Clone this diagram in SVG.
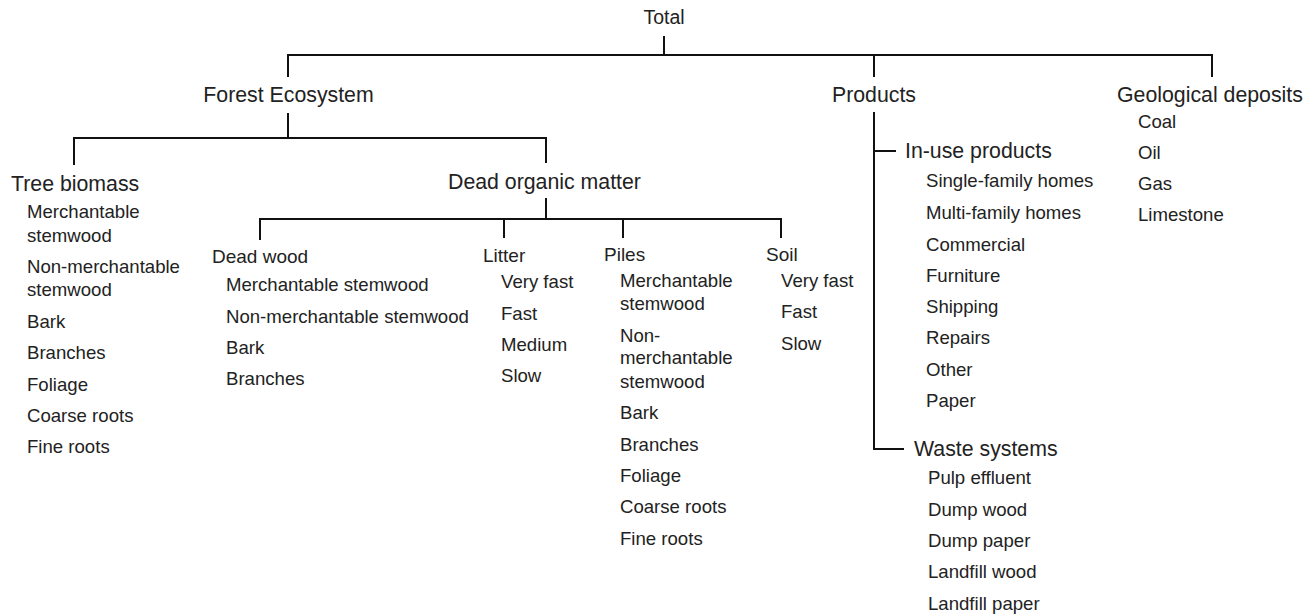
<svg xmlns="http://www.w3.org/2000/svg" width="1315" height="615" viewBox="0 0 1315 615">
<style>
text{font-family:"Liberation Sans",Arial,sans-serif;fill:#222}
.h{font-size:21.3px}
.t{font-size:19.5px}
.s{font-size:19px}
.i{font-size:18.6px}
.c line{stroke:#111;stroke-width:2;stroke-linecap:square}
</style>
<rect width="1315" height="615" fill="#fff"/>
<g class="c" id="connectors">
<line x1="664" y1="37" x2="664" y2="55"/>
<line x1="288" y1="55" x2="1212" y2="55"/>
<line x1="288" y1="55" x2="288" y2="76"/>
<line x1="874" y1="55" x2="874" y2="76"/>
<line x1="1212" y1="55" x2="1212" y2="76"/>
<line x1="288" y1="114" x2="288" y2="138"/>
<line x1="74" y1="138" x2="546" y2="138"/>
<line x1="74" y1="138" x2="74" y2="164"/>
<line x1="546" y1="138" x2="546" y2="162"/>
<line x1="546" y1="199" x2="546" y2="219"/>
<line x1="260" y1="219" x2="781" y2="219"/>
<line x1="260" y1="219" x2="260" y2="239"/>
<line x1="504" y1="219" x2="504" y2="237"/>
<line x1="623" y1="219" x2="623" y2="237"/>
<line x1="781" y1="219" x2="781" y2="237"/>
<line x1="874" y1="113" x2="874" y2="449"/>
<line x1="874" y1="151" x2="895" y2="151"/>
<line x1="874" y1="449" x2="903" y2="449"/>
</g>
<g id="total"><text class="t" x="664" y="24" text-anchor="middle">Total</text></g>
<g id="forest-ecosystem"><text class="h" x="288.5" y="102" text-anchor="middle">Forest Ecosystem</text></g>
<g id="products"><text class="h" x="874" y="102" text-anchor="middle">Products</text></g>
<g id="geological-deposits">
<text class="h" x="1117" y="102">Geological deposits</text>
<text class="i" x="1138" y="128">Coal</text>
<text class="i" x="1138" y="159">Oil</text>
<text class="i" x="1138" y="190">Gas</text>
<text class="i" x="1138" y="221">Limestone</text>
</g>
<g id="tree-biomass">
<text class="h" x="11" y="191">Tree biomass</text>
<text class="i" x="27" y="218">Merchantable</text>
<text class="i" x="27" y="242">stemwood</text>
<text class="i" x="27" y="273">Non-merchantable</text>
<text class="i" x="27" y="296">stemwood</text>
<text class="i" x="27" y="328">Bark</text>
<text class="i" x="27" y="359">Branches</text>
<text class="i" x="27" y="391">Foliage</text>
<text class="i" x="27" y="422">Coarse roots</text>
<text class="i" x="27" y="453">Fine roots</text>
</g>
<g id="dead-organic-matter"><text class="h" x="448" y="189">Dead organic matter</text></g>
<g id="dead-wood">
<text class="s" x="212" y="263">Dead wood</text>
<text class="i" x="226" y="291">Merchantable stemwood</text>
<text class="i" x="226" y="323">Non-merchantable stemwood</text>
<text class="i" x="226" y="354">Bark</text>
<text class="i" x="226" y="385">Branches</text>
</g>
<g id="litter">
<text class="s" x="483" y="262">Litter</text>
<text class="i" x="501" y="288">Very fast</text>
<text class="i" x="501" y="320">Fast</text>
<text class="i" x="501" y="351">Medium</text>
<text class="i" x="501" y="382">Slow</text>
</g>
<g id="piles">
<text class="s" x="604" y="261">Piles</text>
<text class="i" x="620" y="287">Merchantable</text>
<text class="i" x="620" y="310">stemwood</text>
<text class="i" x="620" y="342">Non-</text>
<text class="i" x="620" y="364">merchantable</text>
<text class="i" x="620" y="388">stemwood</text>
<text class="i" x="620" y="419">Bark</text>
<text class="i" x="620" y="451">Branches</text>
<text class="i" x="620" y="482">Foliage</text>
<text class="i" x="620" y="513">Coarse roots</text>
<text class="i" x="620" y="545">Fine roots</text>
</g>
<g id="soil">
<text class="s" x="766" y="261">Soil</text>
<text class="i" x="781" y="287">Very fast</text>
<text class="i" x="781" y="318">Fast</text>
<text class="i" x="781" y="350">Slow</text>
</g>
<g id="in-use-products">
<text class="h" x="905" y="158">In-use products</text>
<text class="i" x="926" y="187">Single-family homes</text>
<text class="i" x="926" y="219">Multi-family homes</text>
<text class="i" x="926" y="251">Commercial</text>
<text class="i" x="926" y="282">Furniture</text>
<text class="i" x="926" y="313">Shipping</text>
<text class="i" x="926" y="344">Repairs</text>
<text class="i" x="926" y="376">Other</text>
<text class="i" x="926" y="407">Paper</text>
</g>
<g id="waste-systems">
<text class="h" x="914" y="456">Waste systems</text>
<text class="i" x="928" y="484">Pulp effluent</text>
<text class="i" x="928" y="516">Dump wood</text>
<text class="i" x="928" y="547">Dump paper</text>
<text class="i" x="928" y="578">Landfill wood</text>
<text class="i" x="928" y="610">Landfill paper</text>
</g>
</svg>
